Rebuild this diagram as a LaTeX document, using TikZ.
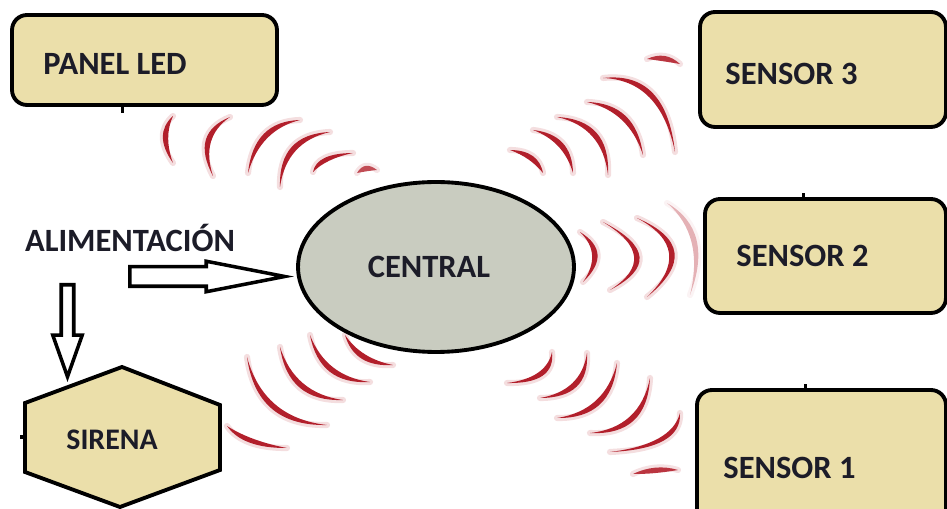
\documentclass[tikz,border=0pt]{standalone}
\usepackage{fontspec}
\setmainfont{Carlito}
\usetikzlibrary{positioning,shapes.geometric,shapes.arrows,calc}

\definecolor{boxfill}{HTML}{EBDFAA}
\definecolor{hubfill}{HTML}{C9CCC0}
\definecolor{wavered}{HTML}{B21F2B}
\definecolor{ink}{HTML}{1C1C28}

\begin{document}
\begin{tikzpicture}[x=0.02cm, y=-0.02cm,
  every node/.style={font=\fontsize{18.5}{22}\selectfont\bfseries, text=ink},
  device/.style={draw=black, line width=2.2pt, fill=boxfill, rounded corners=0.3cm, inner sep=0pt},
  tag/.style={inner sep=0pt},
  hub/.style={ellipse, draw=black, line width=2.2pt, fill=hubfill, inner sep=0pt,
    minimum width=5.52cm, minimum height=3.4cm},
  feed/.style={single arrow, draw=black, line width=2pt, fill=white, inner xsep=0pt,
    minimum width=0pt, single arrow head indent=0pt, anchor=tail},
  wavehalo/.style={line width=3.5pt, line cap=round},
  tick/.style={draw=black, line width=2pt}
]

\useasboundingbox (0,0) rectangle (947,509);
\clip (0,0) rectangle (947,509);

% radio waves around the central unit
\foreach \ax/\ay/\mx/\my/\bx/\by/\s in {
  173/116/163/137/173/163/100, 230/117/206/140/213/176/100,
  300/120/264/134/248/173/100, 330/132/292/147/280/187/100,
  353/153/325/158/313/172/100, 377/170/366/166/357/173/80,
  247/357/272/409/327/425/100, 227/426/250/443/287/448/100,
  280/347/300/388/343/400/100, 310/335/330/372/370/382/100,
  345/335/362/359/393/365/100, 373/333/384/340/403/344/80,
  647/59/665/56/680/64/90, 603/78/653/93/675/152/100,
  587/102/626/116/643/155/100, 557/117/597/133/608/175/100,
  533/130/563/143/573/173/100, 510/150/533/156/543/173/100,
  507/383/543/376/552/352/100, 540/398/577/387/587/353/100,
  557/418/600/405/617/363/100, 590/433/634/421/650/378/100,
  610/452/664/441/680/413/100, 633/474/656/468/678/470/90,
  580/232/598/255/583/282/100, 603/222/640/257/610/290/100,
  637/218/675/253/647/297/100, 667/203/697/240/690/295/35}{
  \coordinate (wa) at (\ax,\ay);
  \coordinate (wm) at (\mx,\my);
  \coordinate (wb) at (\bx,\by);
  \coordinate (wc) at ($(wa)!0.5!(wb)$);
  \coordinate (wi) at ($(wm)!0.11cm!(wc)$);
  \draw[wavehalo, draw=wavered!\s!white, draw opacity=0.15]
    (wa) .. controls ($0.333*(wa)+1.333*(wm)-0.667*(wc)$)
    and ($0.333*(wb)+1.333*(wm)-0.667*(wc)$) .. (wb);
  \fill[wavered!\s!white]
    (wa) .. controls ($0.333*(wa)+1.333*(wm)-0.667*(wc)$)
    and ($0.333*(wb)+1.333*(wm)-0.667*(wc)$) .. (wb)
    .. controls ($0.333*(wb)+1.333*(wi)-0.667*(wc)$)
    and ($0.333*(wa)+1.333*(wi)-0.667*(wc)$) .. (wa);
}

% units
\node[device, minimum width=5.3cm, minimum height=1.8cm] (panel) at (144.5,60) {};
\node[device, minimum width=4.92cm, minimum height=2.3cm] (sen3) at (823,69.5) {};
\node[device, minimum width=4.82cm, minimum height=2.28cm] (sen2) at (825.5,256) {};
\node[device, minimum width=4.98cm, minimum height=2.8cm] (sen1) at (821.5,460) {};
\node[hub] (central) at (436,267) {CENTRAL\kern0.28cm};

\node[tag, right=0.66cm of panel.west, yshift=-0.07cm] (panellbl) {PANEL LED};
\node[tag, right=0.54cm of sen3.west, yshift=-0.09cm] (sen3lbl) {SENSOR 3};
\node[tag, right=0.66cm of sen2.west] (sen2lbl) {SENSOR 2};
\node[tag, right=0.56cm of sen1.west, yshift=-0.16cm] (sen1lbl) {SENSOR 1};

% siren
\draw[draw=black, line width=2.2pt, fill=boxfill]
  (122,367) -- (220,405) -- (220,470) -- (120,507) -- (25,472) -- (25,403) -- cycle;
\node[tag, font=\fontsize{17}{20}\selectfont\bfseries] (sirenalbl) at (112,440) {SIRENA};

% power supply
\node[tag] (alim) at (130,238) {ALIMENTACIÓN};
\node[feed, minimum height=3.1cm, inner ysep=0.16cm, single arrow head extend=0.11cm,
  single arrow tip angle=22] (tocentral) at (128,276.5) {};
\node[feed, rotate=-90, minimum height=1.84cm, inner ysep=0.09cm, single arrow head extend=0.17cm,
  single arrow tip angle=39] (tosirena) at (67.5,283) {};

% small joints
\draw[tick] (panel.south) ++(-22,0) -- ++(0,6);
\draw[tick] (sen2.north) ++(-22,0) -- ++(0,-4);
\draw[tick] (sen1.north) ++(-16,0) -- ++(0,-4);
\draw[tick] (25,437) -- ++(-5,0);

\end{tikzpicture}
\end{document}
